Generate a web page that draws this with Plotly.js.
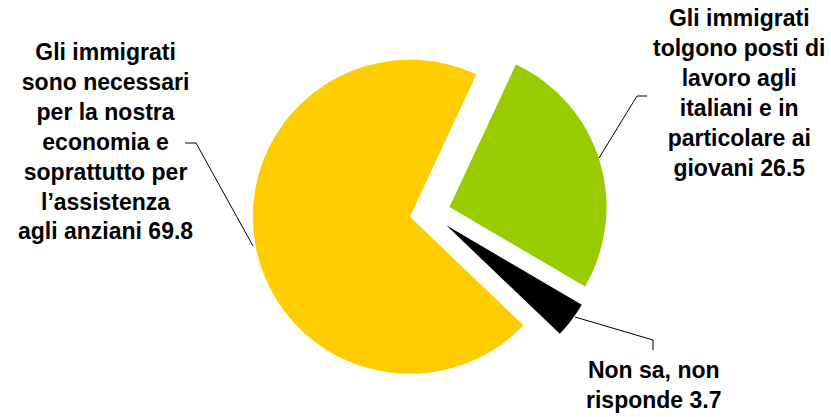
<!DOCTYPE html>
<html>
<head>
<meta charset="utf-8">
<script src="https://cdn.plot.ly/plotly-3.0.1.min.js"></script>
<style>html,body{margin:0;padding:0;background:#fff;}#chart{width:831px;height:417px;}</style>
</head>
<body>
<div id="chart"></div>
<script>
// ---- data ----
const labels = [
  "Gli immigrati<br>tolgono posti di<br>lavoro agli<br>italiani e in<br>particolare ai<br>giovani",
  "Non sa, non<br>risponde",
  "Gli immigrati<br>sono necessari<br>per la nostra<br>economia e<br>soprattutto per<br>l\u2019assistenza<br>agli anziani"
];
const values = [26.5, 3.7, 69.8];
const colors = ["#99CC00", "#000000", "#FFCC00"];

// ---- layout helpers ----
const W = 831, H = 417;
const px = x => x / W;
const py = y => 1 - y / H;

const labelPos = [[739, 93], [653, 385], [105, 141]];
const leaders = [
  [[647, 96], [637, 96], [599, 158]],
  [[653, 350], [653, 340], [575, 317]],
  [[185, 143], [196, 143], [253, 246]]
];

const annotations = labels.map((l, i) => ({
  text: "<b>" + l + " " + values[i] + "</b>",
  x: px(labelPos[i][0]), y: py(labelPos[i][1]),
  xref: "paper", yref: "paper",
  xanchor: "center", yanchor: "middle", align: "center",
  showarrow: false,
  font: {family: "Liberation Sans, Arial, sans-serif", size: 23, color: "#000"}
}));

const shapes = leaders.map(pts => ({
  type: "path", xref: "paper", yref: "paper",
  path: pts.map((p, j) => (j ? "L" : "M") + px(p[0]) + "," + py(p[1])).join(" "),
  line: {color: "#000", width: 1}
}));

const trace = {
  type: "pie",
  labels: labels,
  values: values,
  sort: false,
  direction: "clockwise",
  rotation: 25,
  pull: [0.13, 0.13, 0.13],
  marker: {colors: colors, line: {width: 0}},
  textinfo: "none",
  hoverinfo: "none",
  showlegend: false,
  domain: {x: [252.5 / W, 607.5 / W], y: [1 - 390.5 / H, 1 - 35.5 / H]}
};

Plotly.newPlot("chart", [trace], {
  width: W, height: H,
  margin: {l: 0, r: 0, t: 0, b: 0},
  paper_bgcolor: "#fff", plot_bgcolor: "#fff",
  showlegend: false,
  annotations: annotations,
  shapes: shapes
}, {displayModeBar: false, staticPlot: true});
</script>
</body>
</html>
